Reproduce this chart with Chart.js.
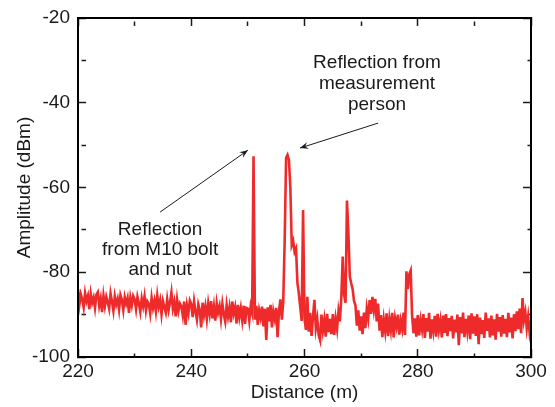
<!DOCTYPE html>
<html>
<head>
<meta charset="utf-8">
<script src="https://cdn.jsdelivr.net/npm/chart.js@4"></script>
<style>
  html, body { margin: 0; padding: 0; background: #fff; }
</style>
</head>
<body>
<canvas id="c" width="555" height="407"></canvas>
<script>
// ---- data ----
const distanceStart = 220;      // m
const distanceStep = 0.25;      // m, sample spacing of the trace
const amplitude = [
  -84.0,-87.6,-85.2,-86.4,-88.3,-84.9,-86.8,-85.6,-88.7,-85.1,-87.2,-86.0,-88.4,-85.3,-84.7,-87.9,-86.2,-89.4,-85.5,-88.0,
  -85.8,-87.1,-88.6,-85.0,-86.9,-89.1,-85.7,-87.6,-86.3,-88.8,-85.4,-86.5,-88.9,-85.9,-87.4,-86.1,-89.6,-86.0,-87.8,-85.6,
  -86.4,-88.7,-85.8,-87.3,-89.3,-86.2,-88.0,-85.7,-89.0,-86.9,-87.5,-89.7,-86.0,-88.4,-86.7,-89.2,-85.5,-88.1,-86.6,-89.9,
  -86.8,-88.2,-89.5,-86.4,-88.9,-87.1,-84.8,-88.6,-87.0,-90.4,-86.5,-89.1,-87.4,-88.0,-90.2,-86.9,-92.4,-87.8,-89.6,-86.7,
  -87.5,-90.6,-86.9,-89.3,-91.2,-87.6,-88.9,-93.0,-87.2,-90.1,-88.0,-91.0,-87.4,-89.8,-86.8,-90.9,-88.1,-91.4,-87.3,-89.5,
  -88.0,-91.0,-87.5,-89.9,-91.6,-87.8,-90.4,-88.3,-91.8,-86.9,-89.7,-88.2,-92.1,-87.7,-90.6,-88.5,-91.3,-87.9,-92.2,-88.4,
  -88.6,-91.4,-88.0,-89.5,-52.6,-91.2,-87.9,-92.4,-89.0,-90.7,-88.1,-92.8,-88.6,-96.0,-88.3,-91.6,-87.7,-93.0,-89.2,-91.0,
  -88.4,-95.3,-89.0,-86.4,-91.2,-86.8,-72.4,-53.0,-52.3,-53.5,-60.0,-73.6,-72.6,-75.2,-74.4,-82.5,-85.0,-88.2,-91.5,-65.3,
  -90.8,-93.6,-85.8,-94.0,-89.6,-95.0,-90.5,-86.5,-93.2,-91.0,-94.8,-96.0,-90.0,-93.7,-91.2,-95.2,-89.8,-94.1,-91.0,-94.6,
  -89.9,-94.8,-91.0,-93.4,-89.2,-91.6,-86.0,-76.3,-85.4,-87.2,-63.1,-70.5,-81.0,-82.6,-84.0,-86.8,-87.8,-92.6,-89.0,-93.8,
  -90.4,-94.6,-89.5,-93.2,-88.6,-90.9,-86.6,-89.8,-85.8,-88.9,-86.3,-91.6,-87.4,-93.8,-90.1,-95.3,-91.2,-93.9,-89.7,-95.1,
  -91.0,-93.6,-89.6,-95.4,-90.9,-92.8,-90.0,-94.7,-91.5,-93.4,-89.5,-94.8,-79.8,-84.0,-80.5,-79.6,-90.2,-94.4,-90.9,-95.2,
  -90.1,-94.9,-91.3,-93.5,-89.9,-95.5,-90.8,-94.0,-89.6,-95.7,-91.1,-93.8,-90.3,-95.2,-89.8,-93.6,-91.4,-95.4,-90.2,-94.3,
  -89.9,-95.1,-90.8,-93.9,-90.3,-95.6,-91.2,-94.2,-90.0,-97.2,-90.6,-94.4,-89.5,-95.3,-91.0,-93.9,-90.2,-95.8,-89.7,-94.5,
  -90.4,-95.0,-89.9,-97.0,-90.7,-94.6,-91.3,-95.5,-89.5,-93.8,-90.9,-95.4,-90.2,-94.9,-91.1,-95.9,-89.8,-94.0,-90.6,-95.2,
  -90.1,-94.5,-91.0,-95.3,-89.6,-94.2,-90.7,-95.6,-89.9,-93.9,-89.2,-93.4,-88.6,-94.4,-86.1,-91.3,-89.4,-93.2,-90.5,-94.2,
  -92.0
];
const xMajorTicks = [220, 240, 260, 280, 300];
const xMinorTicks = [230, 250, 270, 290];
const yMajorTicks = [-100, -80, -60, -40, -20];
const yMinorTicks = [-90, -70, -50, -30];
const xTitle = 'Distance (m)';
const yTitle = 'Amplitude (dBm)';
// annotations: text lines anchored at a data position, arrows from tail to tip (data units)
const annotationTexts = [
  { x: 234.5, y: [-70.0, -74.75, -79.5], lines: ['Reflection', 'from M10 bolt', 'and nut'] },
  { x: 272.8, y: [-30.6, -35.5, -40.5], lines: ['Reflection from', 'measurement', 'person'] }
];
const annotationArrows = [
  { from: [234.5, -65.8], to: [250.0, -51.2] },
  { from: [273.0, -44.8], to: [259.2, -50.7] }
];

const points = amplitude.map((v, i) => ({ x: distanceStart + i * distanceStep, y: v }));

const FONT = '"Liberation Sans", Arial, Helvetica, sans-serif';
const INK = '#1a1a1a';
const TICK_LEN = 8;

function frameGrid(minorList) {
  return {
    display: true,
    drawOnChartArea: false,
    drawTicks: true,
    tickLength: -TICK_LEN,
    tickColor: INK,
    tickWidth: 1.5,
    tickBorderDash: c => (c.tick && minorList.includes(c.tick.value)) ? [4.5, 100] : []
  };
}
const frameBorder = { display: true, color: INK, width: 2 };

function drawFrame(chart) {
  const ctx = chart.ctx;
  const xs = chart.scales.x, ys = chart.scales.y;
  const L = xs.getPixelForValue(xMajorTicks[0]);
  const R = xs.getPixelForValue(xMajorTicks[xMajorTicks.length - 1]);
  const B = ys.getPixelForValue(yMajorTicks[0]);
  const T = ys.getPixelForValue(yMajorTicks[yMajorTicks.length - 1]);
  ctx.save();
  ctx.globalAlpha = 1;
  ctx.globalCompositeOperation = 'source-over';
  ctx.setLineDash([]);
  ctx.strokeStyle = '#000';
  ctx.lineWidth = 2;
  ctx.beginPath();
  ctx.moveTo(L, T); ctx.lineTo(R, T); ctx.lineTo(R, B); ctx.lineTo(L, B); ctx.closePath();
  ctx.stroke();
  ctx.restore();
}

const annotationPlugin = {
  id: 'annot',
  afterDatasetsDraw(chart) { drawFrame(chart); },
  afterDraw(chart) {
    const ctx = chart.ctx;
    const xs = chart.scales.x, ys = chart.scales.y;
    ctx.save();
    ctx.fillStyle = INK;
    ctx.font = '19px ' + FONT;
    ctx.textAlign = 'center';
    ctx.textBaseline = 'middle';
    annotationTexts.forEach(t => {
      const px = xs.getPixelForValue(t.x);
      t.lines.forEach((s, i) => ctx.fillText(s, px, ys.getPixelForValue(t.y[i])));
    });
    ctx.lineWidth = 1;
    ctx.strokeStyle = INK;
    annotationArrows.forEach(ar => {
      const x0 = xs.getPixelForValue(ar.from[0]), y0 = ys.getPixelForValue(ar.from[1]);
      const x1 = xs.getPixelForValue(ar.to[0]), y1 = ys.getPixelForValue(ar.to[1]);
      ctx.beginPath(); ctx.moveTo(x0, y0); ctx.lineTo(x1, y1); ctx.stroke();
      const ang = Math.atan2(y1 - y0, x1 - x0), H = 9, W = 0.38;
      ctx.beginPath();
      ctx.moveTo(x1, y1);
      ctx.lineTo(x1 - H * Math.cos(ang - W), y1 - H * Math.sin(ang - W));
      ctx.lineTo(x1 - 0.6 * H * Math.cos(ang), y1 - 0.6 * H * Math.sin(ang));
      ctx.lineTo(x1 - H * Math.cos(ang + W), y1 - H * Math.sin(ang + W));
      ctx.closePath(); ctx.fill();
    });
    ctx.restore();
    drawFrame(chart);
  }
};

const xAllTicks = xMajorTicks.concat(xMinorTicks).sort((a, b) => a - b);
const yAllTicks = yMajorTicks.concat(yMinorTicks).sort((a, b) => a - b);

new Chart(document.getElementById('c'), {
  type: 'line',
  data: {
    datasets: [{
      data: points,
      borderColor: '#ee2a2b',
      borderWidth: 2.6,
      pointRadius: 0,
      tension: 0,
      xAxisID: 'x',
      yAxisID: 'y'
    }]
  },
  options: {
    responsive: false,
    animation: false,
    events: [],
    layout: { padding: { top: 18, right: 24, left: 0, bottom: 0 } },
    plugins: { legend: { display: false }, tooltip: { enabled: false } },
    scales: {
      x: {
        type: 'linear', position: 'bottom', weight: 0, min: 220, max: 300,
        afterBuildTicks: s => { s.ticks = xMajorTicks.map(v => ({ value: v })); },
        afterFit: s => { s.height = 50; },
        grid: { display: false, drawTicks: false },
        border: { display: false },
        ticks: { color: INK, padding: 3, font: { family: FONT, size: 19 }, maxRotation: 0, autoSkip: false },
        title: { display: true, text: xTitle, color: INK, font: { family: FONT, size: 19 }, padding: { top: 3, bottom: 3 } }
      },
      xFrameBottom: {
        type: 'linear', position: 'bottom', weight: -1, min: 220, max: 300,
        afterBuildTicks: s => { s.ticks = xAllTicks.map(v => ({ value: v })); },
        afterFit: s => { s.height = 0; },
        grid: frameGrid(xMinorTicks),
        border: frameBorder,
        ticks: { display: false }
      },
      xFrameTop: {
        type: 'linear', position: 'top', min: 220, max: 300,
        afterBuildTicks: s => { s.ticks = xAllTicks.map(v => ({ value: v })); },
        afterFit: s => { s.height = 0; },
        grid: frameGrid(xMinorTicks),
        border: frameBorder,
        ticks: { display: false }
      },
      y: {
        type: 'linear', position: 'left', weight: 0, min: -100, max: -20,
        afterBuildTicks: s => { s.ticks = yMajorTicks.map(v => ({ value: v })); },
        afterFit: s => { s.width = 78; },
        grid: { display: false, drawTicks: false },
        border: { display: false },
        ticks: { color: INK, padding: 8, font: { family: FONT, size: 19, lineHeight: 1 }, autoSkip: false },
        title: { display: true, text: yTitle, color: INK, font: { family: FONT, size: 19 }, padding: { top: 13, bottom: 13 } }
      },
      yFrameLeft: {
        type: 'linear', position: 'left', weight: -1, min: -100, max: -20,
        afterBuildTicks: s => { s.ticks = yAllTicks.map(v => ({ value: v })); },
        afterFit: s => { s.width = 0; },
        grid: frameGrid(yMinorTicks),
        border: frameBorder,
        ticks: { display: false }
      },
      yFrameRight: {
        type: 'linear', position: 'right', min: -100, max: -20,
        afterBuildTicks: s => { s.ticks = yAllTicks.map(v => ({ value: v })); },
        afterFit: s => { s.width = 0; },
        grid: frameGrid(yMinorTicks),
        border: frameBorder,
        ticks: { display: false }
      }
    }
  },
  plugins: [annotationPlugin]
});
</script>
</body>
</html>
